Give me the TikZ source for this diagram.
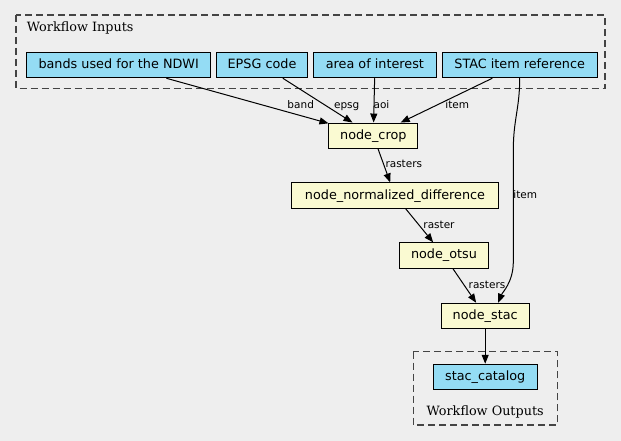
\documentclass[tikz,border=0pt]{standalone}
\usepackage{fontspec}
\setmainfont{DejaVu Serif}
\setsansfont{DejaVu Sans}
\usetikzlibrary{positioning,arrows.meta}

\definecolor{ioblue}{HTML}{94DCF4}
\definecolor{procyellow}{HTML}{FAFAD2}
\definecolor{bggray}{HTML}{EEEEEE}
\definecolor{clustgray}{HTML}{444444}

\tikzset{
  box/.style={draw, rectangle, line width=1pt, inner xsep=2pt, inner ysep=0pt,
    minimum height=25.5pt, text height=9.7pt, text depth=3.1pt,
    font=\sffamily\fontsize{12.8}{15}\selectfont},
  io/.style={box, fill=ioblue},
  proc/.style={box, fill=procyellow},
  flow/.style={-{Triangle[length=9pt,width=7pt]}, line width=1pt},
  lbl/.style={font=\sffamily\fontsize{10.5}{12}\selectfont, anchor=base, inner sep=0pt},
  cluster/.style={draw=clustgray, dash pattern=on 7pt off 4pt, line width=1.2pt},
  clabel/.style={font=\rmfamily\fontsize{12.8}{15}\selectfont, inner sep=0pt}
}

\begin{document}
\begin{tikzpicture}[x=1pt, y=-1pt]
    \fill [bggray] (0,0) rectangle (621,441);
    \useasboundingbox (0,0) rectangle (621,441);

    % clusters
    \draw [cluster] (16,15) rectangle (605,88.3);
    \node [clabel, anchor=base west] (inlabel) at (26.7,32) {Workflow Inputs};
    \draw [cluster] (413.3,351.7) rectangle (557.3,425);
    \node [clabel, anchor=base] (outlabel) at (485.2,415) {Workflow Outputs};

    % inputs
    \node [io, minimum width=184pt] (bands) at (118.7,65) {bands used for the NDWI};
    \node [io, minimum width=91pt, right=4.8pt of bands] (epsg) {EPSG code};
    \node [io, minimum width=123.7pt, right=4.6pt of epsg] (aoi) {area of interest};
    \node [io, minimum width=154.6pt, right=4.6pt of aoi] (ref) {STAC item reference};

    % steps
    \node [proc, minimum width=88.7pt] (crop) at (373.3,135.8) {node\_crop};
    \node [proc, minimum width=206.3pt] (nd) at (395,195.7) {node\_normalized\_difference};
    \node [proc, minimum width=89.4pt] (otsu) at (444,255.6) {node\_otsu};
    \node [proc, minimum width=88.3pt] (stac) at (485.2,316) {node\_stac};

    % output
    \node [io, minimum width=104.3pt, below=34.5pt of stac] (catalog) {stac\_catalog};

    \draw [flow] (bands) -- (crop) node [lbl] at (300.7,109) {band};
    \draw [flow] (epsg) -- (crop) node [lbl] at (346.7,109) {epsg};
    \draw [flow] (aoi) -- (crop) node [lbl] at (381.5,109) {aoi};
    \draw [flow] (ref) -- (crop) node [lbl] at (457.3,109) {item};
    \draw [flow] (ref.south) .. controls +(0,30) and +(0,-30) .. (513.3,150)
        -- (513.3,262) .. controls +(0,20) and +(4,-10) .. ([xshift=13pt]stac.north)
        node [lbl] at (525.3,198) {item};
    \draw [flow] (crop) -- (nd) node [lbl] at (403.8,167.7) {rasters};
    \draw [flow] (nd) -- (otsu) node [lbl] at (439,228.3) {raster};
    \draw [flow] (otsu) -- (stac) node [lbl] at (487,288.3) {rasters};
    \draw [flow] (stac) -- (catalog);

\end{tikzpicture}
\end{document}
